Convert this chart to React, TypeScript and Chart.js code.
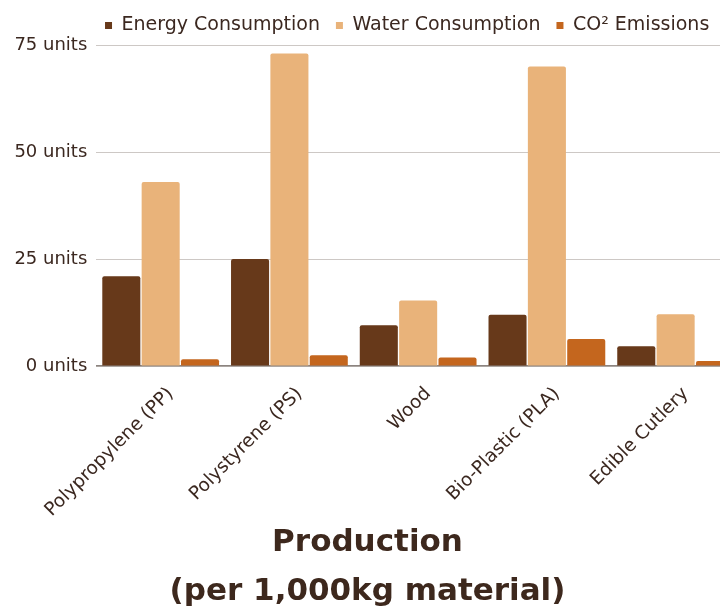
import React, { useEffect, useRef } from 'react';
import { Chart, registerables } from 'chart.js';

Chart.register(...registerables);

const categories = ['Polypropylene (PP)', 'Polystyrene (PS)', 'Wood', 'Bio-Plastic (PLA)', 'Edible Cutlery'];
const seriesNames = ['Energy Consumption', 'Water Consumption', 'CO² Emissions'];
const energyConsumption = [21, 25, 9.5, 12, 4.6];
const waterConsumption = [43, 73, 15.3, 70, 12.1];
const co2Emissions = [1.6, 2.5, 2, 6.3, 1.2];
const yTickValues = [0, 25, 50, 75];
const yTickSuffix = ' units';
const titleLines = ['Production', '(per 1,000kg material)'];

const seriesColors = ['#67391A', '#E9B37A', '#C4661E'];
const textColor = '#3b2820';
const titleColor = '#3d281d';
const gridColor = '#cdc8c5';
const axisColor = '#8c8480';

const legendShift = {
  id: 'legendShift',
  afterLayout(chart: any) {
    const l = chart.legend;
    if (l) {
      l.left -= 11;
      l.right -= 11;
    }
  },
};

export default function App() {
  const ref = useRef<HTMLCanvasElement | null>(null);

  useEffect(() => {
    if (!ref.current) return;
    Chart.defaults.font.family = 'DejaVu Sans';
    const values = [energyConsumption, waterConsumption, co2Emissions];
    const chart = new Chart(ref.current, {
      type: 'bar',
      data: {
        labels: categories,
        datasets: seriesNames.map((name, i) => ({
          label: name,
          data: values[i],
          backgroundColor: seriesColors[i],
          borderWidth: 0,
          borderRadius: 2,
          barPercentage: 0.967,
          categoryPercentage: 0.917,
        })),
      },
      options: {
        responsive: false,
        animation: false,
        layout: { padding: 0 },
        plugins: {
          legend: {
            position: 'top',
            fullSize: false,
            labels: {
              boxWidth: 7,
              boxHeight: 7,
              padding: 16,
              color: textColor,
              font: { size: 19 },
            },
          },
          title: {
            display: true,
            position: 'bottom',
            text: titleLines,
            color: titleColor,
            font: { size: 31, weight: 'bold', lineHeight: 1.58 },
            padding: { top: 0, bottom: 4 },
          },
          tooltip: { enabled: false },
        },
        scales: {
          x: {
            ticks: {
              minRotation: 45,
              maxRotation: 45,
              color: textColor,
              font: { size: 18.5 },
              padding: 9,
              labelOffset: 10,
            },
            grid: { display: false },
            border: { color: axisColor, width: 1.5 },
            afterFit: (s: any) => {
              s.height = 152;
            },
          },
          y: {
            min: yTickValues[0],
            max: yTickValues[yTickValues.length - 1],
            afterBuildTicks: (s: any) => {
              s.ticks = yTickValues.map((v) => ({ value: v }));
            },
            ticks: {
              padding: 9,
              color: textColor,
              font: { size: 18 },
              callback: (v: any) => `${v}${yTickSuffix}`,
            },
            grid: { color: gridColor, drawTicks: false },
            border: { display: false },
            afterFit: (s: any) => {
              s.width = 101.3;
            },
          },
        },
      },
      plugins: [legendShift],
    });
    return () => chart.destroy();
  }, []);

  return (
    <div
      style={{
        position: 'fixed',
        left: 0,
        top: 0,
        width: 720,
        height: 607,
        overflow: 'hidden',
        background: '#ffffff',
      }}
    >
      <canvas
        ref={ref}
        width={745}
        height={620}
        style={{ position: 'absolute', left: -5, top: 0, width: 745, height: 620 }}
      />
    </div>
  );
}
